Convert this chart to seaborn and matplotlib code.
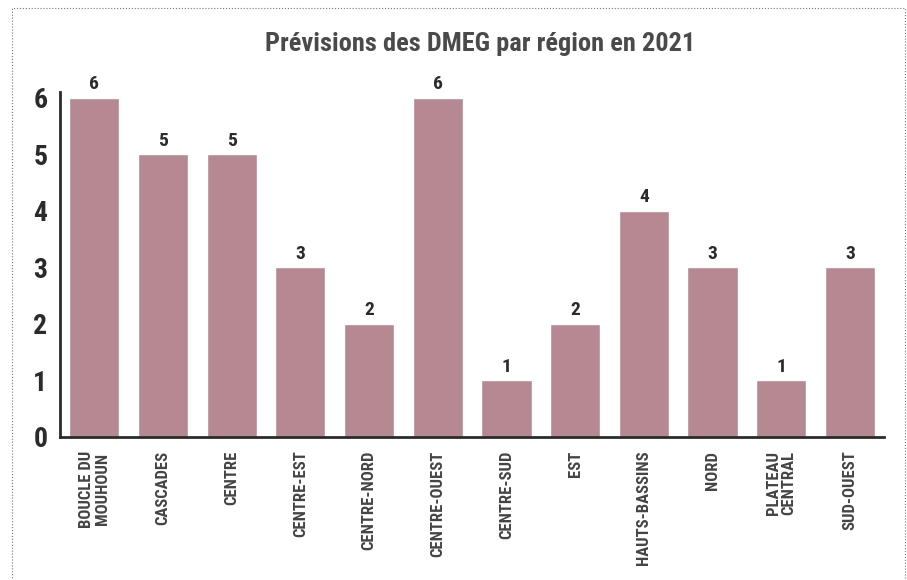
import numpy as np
import pandas as pd
import matplotlib
matplotlib.use("Agg")
import matplotlib.pyplot as plt
import seaborn as sns
from matplotlib.patches import Rectangle

# ================== Data ==================
regions = ["BOUCLE DU\nMOUHOUN", "CASCADES", "CENTRE", "CENTRE-EST", "CENTRE-NORD",
           "CENTRE-OUEST", "CENTRE-SUD", "EST", "HAUTS-BASSINS", "NORD",
           "PLATEAU\nCENTRAL", "SUD-OUEST"]
dmeg = [6, 5, 5, 3, 2, 6, 1, 2, 4, 3, 1, 3]

df = pd.DataFrame({"region": regions, "dmeg": dmeg})

sns.set_style("white")
plt.rcParams['font.family'] = ['Roboto Condensed', 'DejaVu Sans']
plt.rcParams['font.stretch'] = 'condensed'

bar_color = "#b58892"
text_color = "#2b2b2b"

fig = plt.figure(figsize=(9.07, 5.8), dpi=100)
ax = fig.add_axes([0.066, 0.247, 0.909, 0.594])

sns.barplot(data=df, x="region", y="dmeg", color=bar_color, width=0.73,
            saturation=1, ax=ax)

# value labels
for i, v in enumerate(dmeg):
    ax.text(i, v + 0.08, str(v), ha="center", va="bottom", fontsize=14,
            fontweight="bold", color=text_color, fontstretch="condensed")

ax.set_xlim(-0.5, len(regions) - 0.5)
ax.set_ylim(0, 6.1)
ax.set_yticks(range(0, 7))
ax.set_yticklabels([str(t) for t in range(0, 7)], fontsize=20, fontweight="bold",
                   color=text_color, fontstretch="condensed")
ax.tick_params(axis="y", length=6, width=1.5, color=text_color, pad=3)

# category labels without ticks, ticks at boundaries
ax.set_xticks(range(len(regions)))
ax.set_xticklabels(regions, rotation=90, fontsize=12, fontweight="bold",
                   color="#444444", va="top", ha="center", linespacing=1.05,
                   fontstretch="condensed")
ax.tick_params(axis="x", length=0, pad=10)
ax.set_xticks(np.arange(0.5, len(regions), 1), minor=True)
ax.tick_params(axis="x", which="minor", length=6, width=1.5, color=text_color,
               direction="in")
ax.set_xlabel("")
ax.set_ylabel("")

for s in ["top", "right"]:
    ax.spines[s].set_visible(False)
for s in ["left", "bottom"]:
    ax.spines[s].set_linewidth(2)
    ax.spines[s].set_color(text_color)

fig.text(0.529, 0.925, "Prévisions des DMEG par région en 2021", ha="center",
         va="center", fontsize=19, fontweight="bold", color="#4a4a4a",
         fontstretch="condensed")

# dotted frame
fig.patches.append(Rectangle((0.013, -0.01), 0.985, 0.996, transform=fig.transFigure,
                             fill=False, linestyle=":", linewidth=0.8,
                             edgecolor="#777777"))

plt.savefig("out.png", dpi=100)
